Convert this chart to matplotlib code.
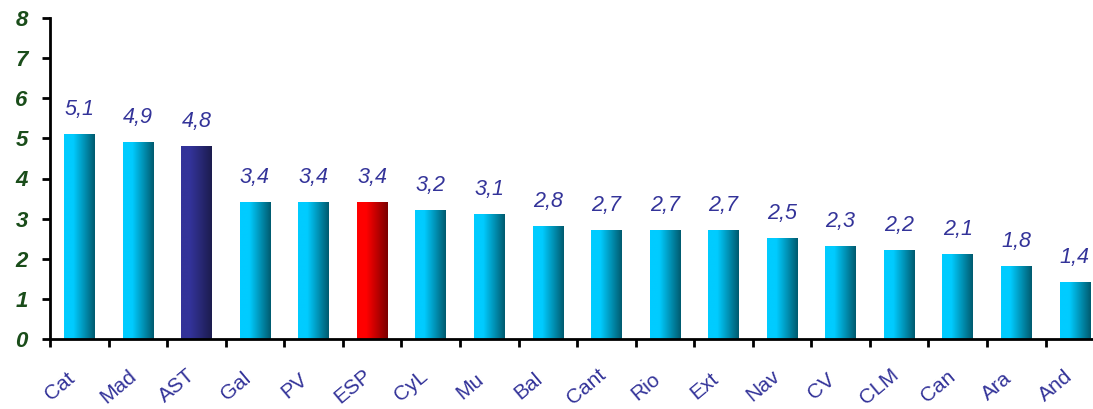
import numpy as np
import matplotlib.pyplot as plt
from matplotlib.colors import LinearSegmentedColormap

regions = ["Cat", "Mad", "AST", "Gal", "PV", "ESP", "CyL", "Mu", "Bal", "Cant",
           "Rio", "Ext", "Nav", "CV", "CLM", "Can", "Ara", "And"]
values = [5.1, 4.9, 4.8, 3.4, 3.4, 3.4, 3.2, 3.1, 2.8, 2.7,
          2.7, 2.7, 2.5, 2.3, 2.2, 2.1, 1.8, 1.4]
highlight = {"AST": ("#333399", "#1c1c4e"), "ESP": ("#ff0000", "#7a0000")}
default_cols = ("#00ccff", "#005a6e")

plt.rcParams['font.family'] = ['Liberation Sans', 'DejaVu Sans']

fig = plt.figure(figsize=(10.93, 4.09), dpi=100)
ax = fig.add_axes([50 / 1093, 70 / 409, 1043 / 1093, 321 / 409])

x = np.arange(len(regions))
width = 0.52
bars = ax.bar(x, values, width=width, color='none', zorder=2)

# horizontal gradient inside each bar
grad = np.linspace(0, 1, 256).reshape(1, -1)
for b, name in zip(bars, regions):
    c0, c1 = highlight.get(name, default_cols)
    cmap = LinearSegmentedColormap.from_list(name, [(0, c0), (0.3, c0), (1, c1)])
    x0 = b.get_x()
    ax.imshow(grad, cmap=cmap, aspect='auto', extent=[x0, x0 + b.get_width(), 0, b.get_height()],
              zorder=2, interpolation='bilinear')
    ax.text(b.get_x() + b.get_width() / 2, b.get_height() + 0.36,
            f"{b.get_height():.1f}".replace('.', ','), ha='center', va='bottom',
            color='#333399', fontsize=15.5, fontstyle='italic')

ax.set_xlim(-0.5, 17.31)
ax.set_ylim(0, 8)
ax.set_yticks(range(9))
ax.set_yticklabels([str(i) for i in range(9)], color='#1a4d1a', fontsize=16,
                   fontweight='bold', fontstyle='italic')

# ticks at category boundaries, labels under bars
ax.set_xticks(np.arange(len(regions)) - 0.5)
ax.set_xticklabels([])
for xi, name in zip(x, regions):
    ax.annotate(name, xy=(xi, 0), xycoords='data', xytext=(-14, -34), textcoords='offset points',
                rotation=40, ha='center', va='center', color='#333399', fontsize=15)

for s in ['top', 'right']:
    ax.spines[s].set_visible(False)
for s in ['left', 'bottom']:
    ax.spines[s].set_linewidth(2)
ax.tick_params(axis='y', length=6, width=2, pad=10)
ax.tick_params(axis='x', length=6, width=2)

fig.savefig("out.png", dpi=100)
